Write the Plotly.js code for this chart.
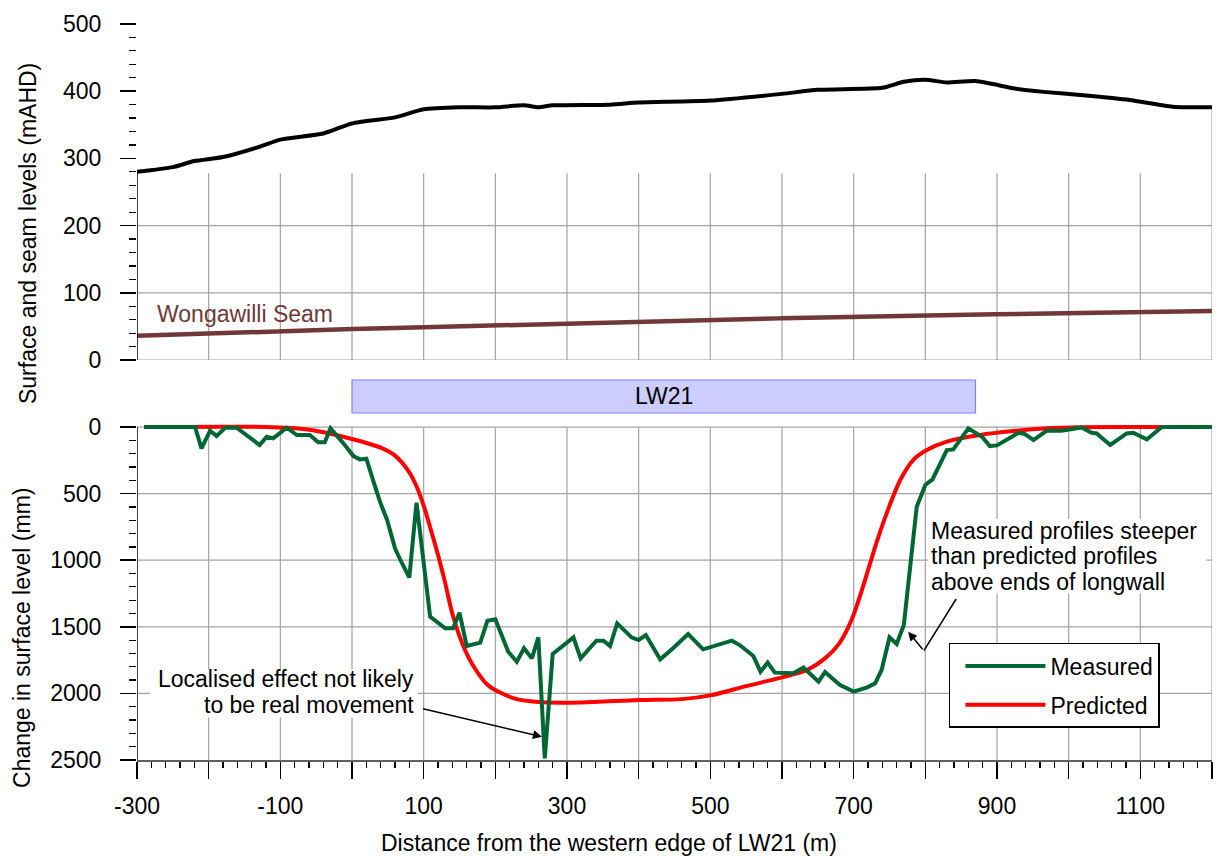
<!DOCTYPE html>
<html><head><meta charset="utf-8">
<script src="https://cdn.plot.ly/plotly-3.0.1.min.js"></script>
<style>html,body{margin:0;padding:0;background:#fff}</style>
</head><body><div id="chart" style="width:1216px;height:863px"></div>
<script>
// ---- Data ----
const surfaceX = [-300,-250,-220,-180,-130,-100,-40,0,60,100,150,200,240,260,280,360,400,500,600,650,740,770,800,830,870,925,965,1020,1085,1145,1200];
const surfaceY = [280,287,296,302,317,328,337,352,361,373,376,376,379,376,379,380,383,386,396,402,405,414,417,413,415,404,399,394,387,377,376];

const seamX = [-300,0,300,600,900,1200];
const seamY = [36,46,54,62,68,73];

const measuredX = [-290,-219,-210,-198,-189,-177,-161,-147,-129,-119,-110,-91,-77,-59,-47,-38,-30,-10,2,11,20,30,39,49,60,69,80,90,97,102,109,130,141,150,160,179,189,200,218,230,240,251,260,269,280,309,319,341,351,360,370,390,400,410,430,448,469,490,509,530,541,560,570,580,590,616,630,651,660,681,700,719,730,739,750,760,770,788,800,810,830,839,860,879,890,900,930,939,951,969,990,1018,1032,1039,1058,1081,1090,1109,1130,1200];
const measuredY = [0,0,160,27,68,5,5,60,135,73,85,5,60,60,115,115,10,135,218,243,238,410,560,698,911,1015,1130,568,898,1124,1424,1511,1511,1394,1644,1619,1454,1444,1687,1762,1661,1737,1579,2487,1704,1579,1737,1604,1604,1644,1474,1579,1599,1562,1744,1661,1554,1669,1637,1604,1637,1719,1837,1769,1844,1849,1806,1912,1839,1937,1987,1954,1924,1824,1579,1629,1486,598,435,393,173,168,10,73,143,138,43,53,98,28,28,3,43,48,135,48,43,93,0,0];

const predictedX = [-290,-120,-60,-30,0,40,60,80,90,100,110,120,130,140,155,170,190,225,260,320,400,460,500,550,600,635,660,680,697,713,730,746,765,783,802,830,876,923,970,1016,1100,1200];
const predictedY = [0,0,20,50,90,155,215,340,445,590,770,960,1170,1400,1640,1800,1940,2035,2065,2068,2050,2043,2015,1945,1880,1824,1737,1624,1449,1199,899,648,398,248,173,110,60,30,10,2,0,0];

const xTickLabels = ['-300','-100','100','300','500','700','900','1100'];
const yTopTicks = [0,100,200,300,400,500];
const yBottomTicks = [0,500,1000,1500,2000,2500];

const panelLabel = 'LW21';
const panelStart = 0, panelEnd = 870;

// ---- Styling helpers ----
const FONT = 'Arial, "Liberation Sans", sans-serif';
const GRID = '#a3a3a3';
const xMin = -300, xMax = 1200;
const yBotMax = 2500, yBotTopPad = -70; // small headroom so lines at 0 are not clipped

const xTickVals = [], xTickText = [];
for (let v = xMin; v <= xMax; v += 100) {
  xTickVals.push(v);
  xTickText.push(xTickLabels.includes(String(v)) ? String(v) : '');
}

const shapes = [];
const gl = (xref, yref, x0, x1, y0, y1) => ({type:'line', xref, yref, x0, x1, y0, y1, layer:'below', line:{color:GRID, width:1.2}});
// top panel grid (only lower part)
for (let v = xMin + 100; v < xMax; v += 100) shapes.push(gl('x2','y2', v, v, 0, 278));
shapes.push(gl('x2','y2', xMax, xMax, 0, surfaceY[surfaceY.length-1]));
[0,100,200].forEach(v => shapes.push(gl('x2','y2', xMin, xMax, v, v)));
// bottom panel grid
for (let v = xMin + 100; v <= xMax; v += 100) shapes.push(gl('x','y', v, v, 0, yBotMax));
[0,500,1000,1500,2000].forEach(v => shapes.push(gl('x','y', xMin, xMax, v, v)));
// axis lines drawn as shapes (they start at the data start, as in the original)
shapes.push({type:'line', xref:'x2', yref:'y2', x0:xMin, x1:xMin, y0:0, y1:surfaceY[0], layer:'above', line:{color:'black', width:1.5}});
shapes.push({type:'line', xref:'x', yref:'y', x0:xMin, x1:xMin, y0:0, y1:yBotMax, layer:'above', line:{color:'black', width:1.5}});
// LW21 panel
shapes.push({type:'rect', xref:'x', yref:'paper', x0:panelStart, x1:panelEnd, y0:0.4715, y1:0.5163, fillcolor:'rgb(204,204,255)', line:{color:'rgb(128,128,255)', width:1.2}});
// white backgrounds behind the note texts (hide grid, stay under data)
shapes.push({type:'rect', xref:'x', yref:'y', x0:-282, x1:92, y0:1820, y1:2180, layer:'between', fillcolor:'white', line:{width:0}});
shapes.push({type:'rect', xref:'x', yref:'y', x0:804, x1:1192, y0:690, y1:1250, layer:'between', fillcolor:'white', line:{width:0}});
// arrow segment for the annotation on the right
shapes.push({type:'line', xref:'x', yref:'y', x0:798, y0:1679, x1:843, y1:1291, line:{color:'black', width:1.5}});

const annFont = {family:FONT, size:23, color:'black'};
const annotations = [
  {xref:'paper', yref:'paper', x:-0.1014, y:0.716, text:'Surface and seam levels (mAHD)', textangle:-90, showarrow:false, xanchor:'center', yanchor:'middle', font:annFont},
  {xref:'paper', yref:'paper', x:-0.107, y:0.1658, text:'Change in surface level (mm)', textangle:-90, showarrow:false, xanchor:'center', yanchor:'middle', font:annFont},
  {xref:'paper', yref:'paper', x:0.439, y:-0.1128, text:'Distance from the western edge of LW21 (m)', showarrow:false, xanchor:'center', yanchor:'middle', font:annFont},
  {xref:'x', yref:'paper', x:(panelStart+panelEnd)/2, y:0.4939, text:panelLabel, showarrow:false, xanchor:'center', yanchor:'middle', font:annFont},
  {xref:'x2', yref:'y2', x:-275, y:68, text:'Wongawilli Seam', showarrow:false, xanchor:'left', yanchor:'middle', font:{family:FONT, size:23, color:'rgb(112,56,56)'}},
  {xref:'x', yref:'y', x:88, y:1895, text:'Localised effect not likely', showarrow:false, xanchor:'right', yanchor:'middle', borderpad:0, font:annFont},
  {xref:'x', yref:'y', x:88, y:2090, text:'to be real movement', showarrow:false, xanchor:'right', yanchor:'middle', borderpad:0, font:annFont},
  {xref:'x', yref:'y', x:265, y:2325, ax:97, ay:2112, axref:'x', ayref:'y', text:'', showarrow:true, arrowhead:2, arrowsize:1.2, arrowwidth:1.5, arrowcolor:'black'},
  {xref:'x', yref:'y', x:806, y:780, text:'Measured profiles steeper', showarrow:false, xanchor:'left', yanchor:'middle', borderpad:0, font:annFont},
  {xref:'x', yref:'y', x:806, y:970, text:'than predicted profiles', showarrow:false, xanchor:'left', yanchor:'middle', borderpad:0, font:annFont},
  {xref:'x', yref:'y', x:806, y:1160, text:'above ends of longwall', showarrow:false, xanchor:'left', yanchor:'middle', borderpad:0, font:annFont},
  {xref:'x', yref:'y', x:776, y:1537, ax:798, ay:1679, axref:'x', ayref:'y', text:'', showarrow:true, arrowhead:2, arrowsize:1.2, arrowwidth:1.5, arrowcolor:'black'}
];

const traces = [
  {x:surfaceX, y:surfaceY, xaxis:'x2', yaxis:'y2', mode:'lines', line:{color:'black', width:4, shape:'spline', smoothing:0.6}, showlegend:false, name:'Surface', hoverinfo:'skip'},
  {x:seamX, y:seamY, xaxis:'x2', yaxis:'y2', mode:'lines', line:{color:'rgb(112,56,56)', width:4.5, shape:'spline'}, showlegend:false, name:'Wongawilli Seam', hoverinfo:'skip'},
  {x:predictedX, y:predictedY, xaxis:'x', yaxis:'y', mode:'lines', line:{color:'#ff0000', width:4, shape:'spline', smoothing:0.8}, name:'Predicted', legendgroup:'b', legendrank:2},
  {x:measuredX, y:measuredY, xaxis:'x', yaxis:'y', mode:'lines', line:{color:'#006633', width:4}, name:'Measured', legendgroup:'a', legendrank:1}
];

const minorXVals = [];
for (let v = xMin; v <= xMax; v += 20) if ((v - xMin) % 100 !== 0) minorXVals.push(v);
const minorYBottom = [];
for (let v = 0; v <= 2500; v += 100) if (v % 500 !== 0) minorYBottom.push(v);
const minorYTop = [];
for (let v = 0; v <= 500; v += 20) if (v % 100 !== 0) minorYTop.push(v);

// bottom panel: 0 sits at 0.4524 of the plot height, with a little headroom above
const botTop = 0.4524 + (0 - yBotTopPad) / yBotMax * 0.4524;

const tickFont = {family:FONT, size:23, color:'black'};
const layout = {
  width:1216, height:863,
  margin:{l:137, r:4, t:24, b:103, pad:0},
  paper_bgcolor:'white', plot_bgcolor:'white',
  font:{family:FONT, size:23, color:'black'},
  showlegend:true,
  legend:{x:0.7553, y:0.159, xanchor:'left', yanchor:'top', bgcolor:'white', bordercolor:'black', borderwidth:1.5, font:{family:FONT, size:23, color:'black'}, itemwidth:80, indentation:10, traceorder:'grouped', tracegroupgap:6},
  xaxis:{domain:[0,1], anchor:'y', range:[xMin, xMax], tickmode:'array', tickvals:xTickVals, ticktext:xTickText,
    ticks:'outside', ticklen:17, tickwidth:1.5, tickcolor:'black', tickfont:tickFont, ticklabelstandoff:7,
    showline:true, linecolor:'#606060', linewidth:2, showgrid:false, zeroline:false,
    minor:{tickmode:'array', tickvals:minorXVals, ticks:'outside', ticklen:6, tickwidth:1.2, tickcolor:'black', showgrid:false}},
  yaxis:{domain:[0, botTop], anchor:'x', range:[yBotMax, yBotTopPad], tickmode:'array', tickvals:yBottomTicks,
    ticks:'outside', ticklen:16, tickwidth:1.5, tickcolor:'black', tickfont:tickFont, ticklabelstandoff:14,
    showline:false, showgrid:false, zeroline:false,
    minor:{tickmode:'array', tickvals:minorYBottom, ticks:'outside', ticklen:7, tickwidth:1.2, tickcolor:'black', showgrid:false}},
  xaxis2:{domain:[0,1], anchor:'y2', matches:'x', range:[xMin, xMax], visible:false, showgrid:false, zeroline:false},
  yaxis2:{domain:[0.5435,1], anchor:'x2', range:[0,500], tickmode:'array', tickvals:yTopTicks,
    ticks:'outside', ticklen:16, tickwidth:1.5, tickcolor:'black', tickfont:tickFont, ticklabelstandoff:14,
    showline:false, showgrid:false, zeroline:false,
    minor:{tickmode:'array', tickvals:minorYTop, ticks:'outside', ticklen:7, tickwidth:1.2, tickcolor:'black', showgrid:false}},
  shapes:shapes,
  annotations:annotations
};

Plotly.newPlot('chart', traces, layout, {displayModeBar:false, staticPlot:true});
</script>
</body></html>
